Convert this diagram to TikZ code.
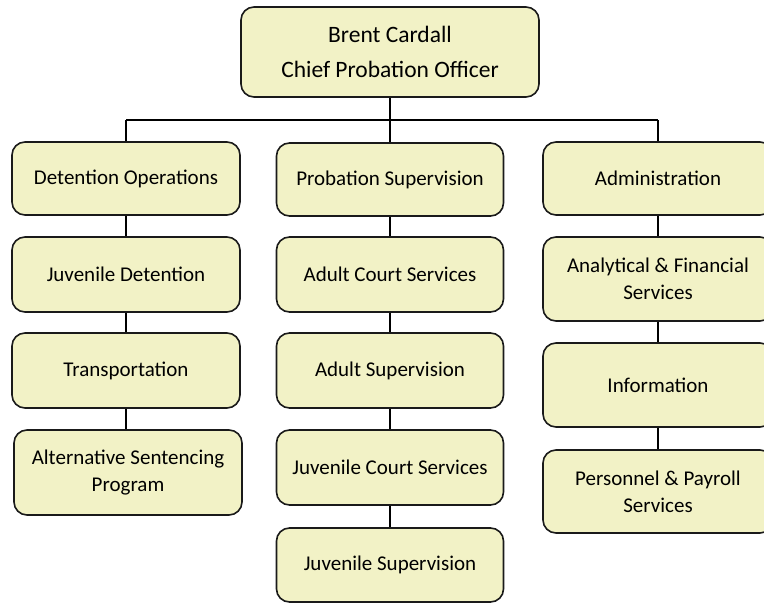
\documentclass[tikz,border=0pt]{standalone}
\usepackage{fontspec}
\setmainfont{Carlito}
\definecolor{boxfill}{HTML}{F2F2C6}
\definecolor{boxline}{HTML}{1A1A1A}
\begin{document}
\begin{tikzpicture}[x=1pt,y=-1pt,
  unit/.style={draw=boxline, line width=1.6pt, fill=boxfill, rounded corners=13pt,
    align=center, inner sep=0pt, font=\fontsize{21}{27}\selectfont},
  headbox/.style={unit, minimum width=298pt, minimum height=90pt,
    font=\fontsize{23.5}{35}\selectfont},
  link/.style={draw=black, line width=1.6pt}]
\useasboundingbox (0,0) rectangle (764,603);
\clip (0,0) rectangle (764,603);

% chief officer
\node[headbox] (chief) at (390,52) {Brent Cardall\\Chief Probation Officer};

% branch bus
\coordinate (busL) at (126,120);
\coordinate (busR) at (658,120);
\coordinate (busM) at (390,120);

% left column
\node[unit, minimum width=228pt, minimum height=73pt] (det) at (126,178.5) {Detention Operations};
\node[unit, minimum width=228pt, minimum height=75pt] (juvdet) at (126,274.5) {Juvenile Detention};
\node[unit, minimum width=228pt, minimum height=75pt] (trans) at (126,370.5) {Transportation};
\node[unit, minimum width=228pt, minimum height=85pt] (alt) at (128,472.5) {Alternative Sentencing\\Program};

% middle column
\node[unit, minimum width=227pt, minimum height=73pt] (prob) at (390,179.5) {Probation Supervision};
\node[unit, minimum width=227pt, minimum height=75pt] (acs) at (390,274.5) {Adult Court Services};
\node[unit, minimum width=227pt, minimum height=75pt] (asup) at (390,370.5) {Adult Supervision};
\node[unit, minimum width=227pt, minimum height=75pt] (jcs) at (390,467.5) {Juvenile Court Services};
\node[unit, minimum width=227pt, minimum height=74pt] (jsup) at (390,565) {Juvenile Supervision};

% right column
\node[unit, minimum width=230pt, minimum height=73pt] (admin) at (658,178.5) {Administration};
\node[unit, minimum width=230pt, minimum height=84pt] (afs) at (658,279) {Analytical \& Financial\\Services};
\node[unit, minimum width=230pt, minimum height=84pt] (info) at (658,385) {Information};
\node[unit, minimum width=230pt, minimum height=83pt] (pps) at (658,491.5) {Personnel \& Payroll\\Services};

% connectors
\draw[link] (chief.south) -- (busM);
\draw[link] (busL) -- (busR);
\draw[link] (busL) -- (det.north);
\draw[link] (busM) -- (prob.north);
\draw[link] (busR) -- (admin.north);
\draw[link] (det) -- (juvdet);
\draw[link] (juvdet) -- (trans);
\draw[link] (trans.south) -- (trans.south |- alt.north);
\draw[link] (prob) -- (acs);
\draw[link] (acs) -- (asup);
\draw[link] (asup) -- (jcs);
\draw[link] (jcs) -- (jsup);
\draw[link] (admin) -- (afs);
\draw[link] (afs) -- (info);
\draw[link] (info) -- (pps);
\end{tikzpicture}
\end{document}
